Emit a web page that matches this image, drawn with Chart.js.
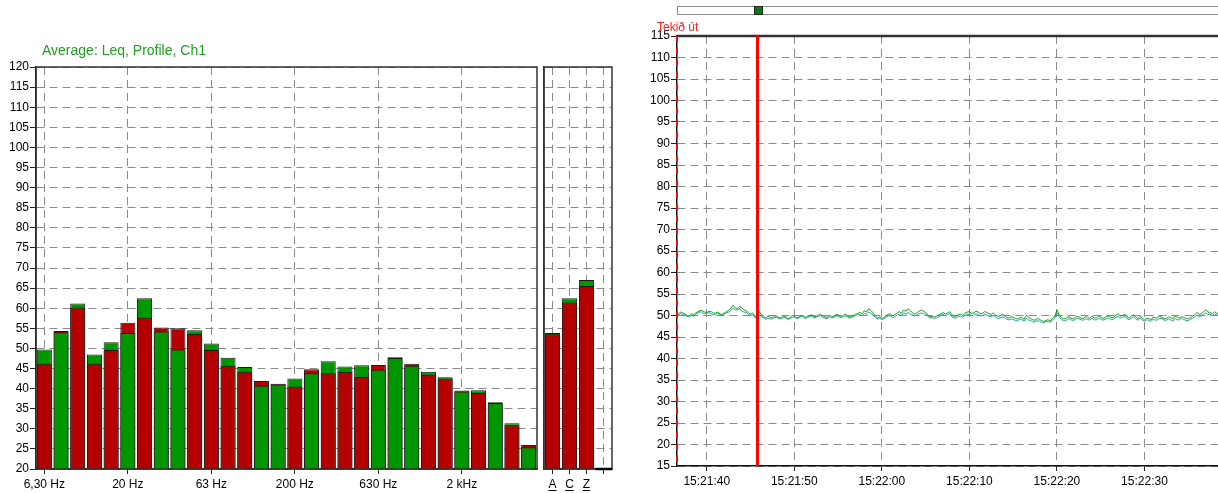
<!DOCTYPE html>
<html><head><meta charset="utf-8">
<script src="https://cdn.jsdelivr.net/npm/chart.js@4.4.1/dist/chart.umd.min.js"></script>
<style>
html,body{margin:0;padding:0;background:#fff}
body{width:1218px;height:493px;position:relative;overflow:hidden;font-family:"Liberation Sans",Arial,sans-serif}
.box{position:absolute;top:0;height:493px}
</style></head><body>
<div class="box" style="left:0;width:541px"><canvas id="c1"></canvas></div>
<div class="box" style="left:541px;width:75px"><canvas id="c2"></canvas></div>
<div class="box" style="left:616px;width:602px"><canvas id="c3"></canvas></div>
<div style="position:absolute;left:42px;top:42px;font-size:14px;line-height:16px;color:#1f9f1f">Average: Leq, Profile, Ch1</div>
<div style="position:absolute;left:657px;top:20px;font-size:12px;line-height:14px;color:#ff1a1a">Tekið út</div>
<div style="position:absolute;left:677px;top:6px;width:545px;height:7px;border:1px solid #8c8c8c;background:#fff"></div>
<div style="position:absolute;left:754px;top:6px;width:7px;height:7px;border:1px solid #222;background:#0a7a0a"></div>
<script>
// ---------- data ----------
const BANDS = ['6,30 Hz','8 Hz','10 Hz','12,5 Hz','16 Hz','20 Hz','25 Hz','31,5 Hz','40 Hz','50 Hz',
  '63 Hz','80 Hz','100 Hz','125 Hz','160 Hz','200 Hz','250 Hz','315 Hz','400 Hz','500 Hz',
  '630 Hz','800 Hz','1 kHz','1,25 kHz','1,6 kHz','2 kHz','2,5 kHz','3,15 kHz','4 kHz','5 kHz'];
const BAND_TICK_LABELS = ['6,30 Hz','20 Hz','63 Hz','200 Hz','630 Hz','2 kHz'];
const RED_BANDS = [46.2,54.3,60.2,46.2,49.6,56.4,57.6,55.2,55.0,53.6,
  49.6,45.7,44.2,41.9,41.2,40.5,44.8,43.8,44.1,42.9,
  45.9,47.8,46.2,43.4,42.5,39.5,38.9,36.6,30.9,26.0];
const GREEN_BANDS = [49.7,54.0,61.2,48.5,51.5,53.8,62.5,54.2,49.7,54.5,
  51.2,47.7,45.4,40.7,41.0,42.5,43.8,46.8,45.5,45.8,
  44.7,47.6,45.7,44.2,42.8,39.3,39.6,36.4,31.4,25.4];
const WEIGHTINGS = ['A','C','Z',''];
const RED_W = [53.5,61.4,65.5,null];
const GREEN_W = [53.8,62.5,67.0,null];

const T_START = 36.5;   // seconds after 15:21:00, first sample
const T_STEP = 0.25;    // sample spacing (s)
const GREEN_TIME = [
  50.6,50.3,50.8,50.6,50.3,50.0,49.9,50.4,50.2,50.6,50.9,51.2,51.1,50.8,50.7,51.0,50.9,50.5,50.6,50.8,
  50.4,50.2,50.6,50.9,51.2,51.7,52.4,51.8,51.6,52.1,51.8,51.3,51.1,50.7,50.3,50.6,49.8,49.6,50.9,50.1,
  49.7,49.4,49.9,49.6,49.5,49.9,49.8,49.5,49.4,49.8,49.7,49.3,49.5,50.0,49.9,49.5,49.6,49.9,50.0,49.6,
  49.7,50.0,50.2,49.7,49.8,50.1,50.3,49.9,49.7,49.5,50.1,49.7,49.8,50.2,50.2,49.8,49.9,50.3,50.1,49.6,
  49.8,50.0,50.3,50.5,50.7,50.4,51.1,50.8,51.6,51.2,50.6,49.9,49.4,49.7,49.3,49.6,50.0,50.3,50.4,49.9,
  50.2,50.6,50.9,50.5,51.3,51.0,51.6,51.1,50.7,50.3,50.6,51.0,51.3,51.0,50.7,50.1,49.7,49.9,49.6,49.9,
  50.1,50.4,50.7,50.3,50.6,50.9,50.2,49.8,49.9,50.2,50.3,50.0,50.5,50.8,50.9,50.5,50.6,51.0,50.8,50.4,
  50.5,50.9,50.7,50.4,50.3,50.6,50.1,49.8,49.9,50.3,50.0,49.6,49.4,49.7,49.6,49.3,49.2,49.5,49.5,49.1,
  50.1,49.6,49.3,49.0,48.9,49.3,49.1,48.8,48.6,48.9,49.0,48.7,49.4,49.8,51.3,50.2,49.5,49.2,49.3,49.7,
  49.6,49.2,49.4,49.8,49.7,49.4,49.3,49.7,49.6,49.3,49.9,49.5,49.4,49.8,49.7,49.3,49.5,49.9,49.8,49.5,
  49.6,50.1,50.4,49.9,50.0,50.3,49.7,49.4,49.9,50.2,49.6,49.3,49.8,49.4,49.0,49.4,49.3,49.0,49.7,49.4,
  49.5,49.8,49.6,49.2,49.3,49.7,49.5,49.2,49.9,49.6,49.4,49.7,49.6,49.3,49.2,49.5,49.8,50.2,50.7,50.3,
  50.4,50.9,51.3,50.8,50.7,50.4,50.9,50.5,50.6];
const TEAL_TIME = [
  50.4,50.1,50.5,50.2,50.1,49.8,49.7,50.0,49.8,50.3,50.6,50.9,50.7,50.4,50.5,50.7,50.4,50.1,50.3,50.5,
  50.2,49.9,50.4,50.6,50.8,51.2,51.7,51.3,51.3,51.6,51.0,50.8,50.7,50.3,50.0,50.2,49.5,49.3,50.2,49.7,
  49.5,49.1,49.4,49.2,49.2,49.5,49.6,49.2,49.3,49.5,49.5,49.1,49.2,49.6,49.6,49.3,49.4,49.7,49.7,49.3,
  49.5,49.8,49.8,49.4,49.6,49.9,49.9,49.5,49.4,49.2,49.8,49.5,49.5,49.9,49.9,49.5,49.6,49.9,49.8,49.4,
  49.5,49.7,50.0,50.2,50.2,49.9,50.5,50.3,50.8,50.5,50.1,49.6,49.2,49.4,49.0,49.3,49.6,49.9,49.9,49.5,
  49.8,50.1,50.3,50.0,50.6,50.3,50.7,50.4,50.2,49.9,50.1,50.4,50.6,50.4,50.3,49.8,49.4,49.6,49.3,49.5,
  49.7,50.0,50.3,49.9,50.2,50.4,49.7,49.4,49.5,49.8,49.8,49.6,50.0,50.3,50.3,50.0,50.1,50.4,50.2,49.9,
  50.0,50.3,50.1,49.8,49.8,50.0,49.6,49.3,49.4,49.7,49.5,49.1,49.0,49.2,49.1,48.8,48.8,49.1,49.0,48.7,
  49.4,49.0,48.8,48.5,48.5,48.8,48.7,48.4,48.3,48.6,48.6,48.4,49.0,49.3,50.6,49.7,49.1,48.8,48.8,49.2,
  49.2,48.8,49.0,49.3,49.3,49.0,48.9,49.2,49.1,48.9,49.4,49.0,49.0,49.3,49.2,48.9,49.1,49.4,49.3,49.0,
  49.2,49.6,49.8,49.4,49.6,49.8,49.3,49.0,49.4,49.7,49.2,48.9,49.4,49.0,48.7,49.0,48.9,48.6,49.2,48.9,
  49.0,49.3,49.3,48.9,48.9,49.2,49.0,48.7,49.3,49.0,49.0,49.3,49.1,48.8,48.8,49.1,49.3,49.7,50.1,49.8,
  49.9,50.3,50.6,50.2,50.3,50.0,50.4,50.1,50.2];
const MARKER_T = 45.8;
const X_MIN = 36.6, X_MAX = 98.4;

// ---------- styles ----------
const RED = '#b40000', GREEN = '#009600', EDGE = '#1a1a1a';
const GRID = '#8a8a8a', DASH = [8,5];
Chart.defaults.font.family = '"Liberation Sans", Arial, sans-serif';
Chart.defaults.font.size = 12;
Chart.defaults.color = '#000';

function layers(r, g) {
  const back = r.map((v,i)=> v==null ? null : Math.max(v, g[i]));
  const front = r.map((v,i)=> v==null ? null : Math.min(v, g[i]));
  const backC = r.map((v,i)=> v >= g[i] ? RED : GREEN);
  const frontC = r.map((v,i)=> v >= g[i] ? GREEN : RED);
  return [
    {label:'front', data: front, backgroundColor: frontC, borderColor: EDGE, borderWidth: 1, order: 0, grouped:false, barPercentage: 0.9, categoryPercentage: 1},
    {label:'back', data: back, backgroundColor: backC, borderColor: EDGE, borderWidth: 1, order: 1, grouped:false, barPercentage: 0.9, categoryPercentage: 1}
  ];
}

const frame = {
  id: 'frame',
  afterDraw(chart, args, o) {
    const {ctx, chartArea: a} = chart;
    ctx.save();
    ctx.strokeStyle = o.color || '#444';
    ctx.lineWidth = o.width || 1.5;
    ctx.strokeRect(a.left, a.top, a.right - a.left, a.bottom - a.top);
    ctx.restore();
  }
};

const common = {
  responsive: true, maintainAspectRatio: false, animation: false,
  plugins: { legend: {display:false}, tooltip: {enabled:false} }
};

// ---------- chart 1: bands ----------
new Chart(document.getElementById('c1'), {
  type: 'bar',
  data: { labels: BANDS, datasets: layers(RED_BANDS, GREEN_BANDS) },
  plugins: [frame],
  options: Object.assign({}, common, {
    layout: { padding: {top: 67, right: 4, left: 0, bottom: 0} },
    plugins: Object.assign({}, common.plugins, {frame: {color:'#333', width:1.5}}),
    scales: {
      x: {
        ticks: { autoSkip:false, maxRotation:0, padding:3,
          callback: (v,i)=> BAND_TICK_LABELS.includes(BANDS[i]) ? BANDS[i] : '' },
        grid: { offset:false, tickLength:5, lineWidth:1,
          color: c => BAND_TICK_LABELS.includes(BANDS[c.index]) ? GRID : 'rgba(0,0,0,0)',
          tickColor: c => BAND_TICK_LABELS.includes(BANDS[c.index]) ? '#222' : 'rgba(0,0,0,0)' },
        border: { color:'#111', width:1.5, dash: DASH },
        afterFit: s => { s.height = 24; }
      },
      y: {
        min: 20, max: 120,
        ticks: { stepSize: 5, autoSkip:false, padding:1 },
        grid: { color: GRID, tickColor:'#222', tickLength:6 },
        border: { color:'#111', width:1.5, dash: DASH },
        afterFit: s => { s.width = 36; }
      }
    }
  })
});

// ---------- chart 2: A / C / Z ----------
const underline = {
  id: 'underline',
  afterDraw(chart) {
    const {ctx} = chart; const x = chart.scales.x; const a = chart.chartArea;
    ctx.save(); ctx.font = '12px "Liberation Sans", Arial, sans-serif';
    ctx.strokeStyle = '#000'; ctx.lineWidth = 1;
    WEIGHTINGS.forEach((l,i)=>{
      if (!l) return;
      const px = x.getPixelForTick(i); const w = ctx.measureText(l).width;
      ctx.beginPath(); ctx.moveTo(px - w/2, 490.5); ctx.lineTo(px + w/2, 490.5); ctx.stroke();
    });
    const last = x.getPixelForTick(WEIGHTINGS.length - 1);
    ctx.lineWidth = 2.5; ctx.strokeStyle = '#000';
    ctx.beginPath(); ctx.moveTo(last - 8, a.bottom); ctx.lineTo(a.right, a.bottom); ctx.stroke();
    ctx.restore();
  }
};
new Chart(document.getElementById('c2'), {
  type: 'bar',
  data: { labels: WEIGHTINGS, datasets: layers(RED_W, GREEN_W) },
  plugins: [frame, underline],
  options: Object.assign({}, common, {
    layout: { padding: {top: 67, right: 4, left: 3, bottom: 0} },
    plugins: Object.assign({}, common.plugins, {frame: {color:'#333', width:1.5}}),
    scales: {
      x: {
        ticks: { autoSkip:false, maxRotation:0, padding:3 },
        grid: { offset:false, tickLength:5, color: GRID, tickColor:'#222' },
        border: { color:'#111', width:1.5, dash: DASH },
        afterFit: s => { s.height = 24; }
      },
      y: {
        min: 20, max: 120,
        ticks: { stepSize: 5, display:false },
        grid: { color: GRID, drawTicks:false },
        border: { color:'#333', width:1.5, dash: DASH },
        afterFit: s => { s.width = 0; }
      }
    }
  })
});

// ---------- chart 3: time history ----------
const marker = {
  id: 'marker',
  afterDraw(chart) {
    const {ctx, chartArea: a} = chart; const x = chart.scales.x;
    ctx.save();
    ctx.strokeStyle = '#333'; ctx.lineWidth = 2.5;
    ctx.beginPath(); ctx.moveTo(a.left, a.top); ctx.lineTo(a.right, a.top); ctx.stroke();
    ctx.strokeStyle = '#e01010'; ctx.lineWidth = 2; ctx.setLineDash([6,6]);
    ctx.beginPath(); ctx.moveTo(a.left, a.top); ctx.lineTo(a.left, a.bottom); ctx.stroke();
    ctx.setLineDash([]);
    const px = x.getPixelForValue(MARKER_T);
    ctx.strokeStyle = '#ff0000'; ctx.lineWidth = 3;
    ctx.beginPath(); ctx.moveTo(px, a.top); ctx.lineTo(px, a.bottom); ctx.stroke();
    ctx.restore();
  }
};
const pad2 = n => String(n).padStart(2,'0');
const toPts = arr => arr.map((v,i)=>({x: T_START + i*T_STEP, y: v}));
new Chart(document.getElementById('c3'), {
  type: 'line',
  data: { datasets: [
    {label:'green', data: toPts(GREEN_TIME), borderColor:'#1aa01a', borderWidth:1, pointRadius:0, tension:0, order:0},
    {label:'teal', data: toPts(TEAL_TIME), borderColor:'#1fa8a8', borderWidth:1, pointRadius:0, tension:0, order:1}
  ]},
  plugins: [marker],
  options: Object.assign({}, common, {
    layout: { padding: {top: 36, right: 0, left: 0, bottom: 0} },
    scales: {
      x: {
        type:'linear', min: X_MIN, max: X_MAX,
        ticks: { stepSize:10, includeBounds:false, autoSkip:false, maxRotation:0, padding:3,
          callback: v => { const m = 21 + Math.floor(v/60); const s = Math.round(v % 60); return '15:' + pad2(m) + ':' + pad2(s); } },
        grid: { color: GRID, tickColor:'#222', tickLength:5 },
        border: { color:'#111', width:1.5, dash: DASH },
        afterFit: s => { s.height = 27; }
      },
      y: {
        min: 15, max: 115,
        ticks: { stepSize:5, autoSkip:false, padding:1 },
        grid: { color: GRID, tickColor:'#222', tickLength:6 },
        border: { color:'#111', width:1.5, dash: DASH },
        afterFit: s => { s.width = 61; }
      }
    }
  })
});
</script>
</body></html>
